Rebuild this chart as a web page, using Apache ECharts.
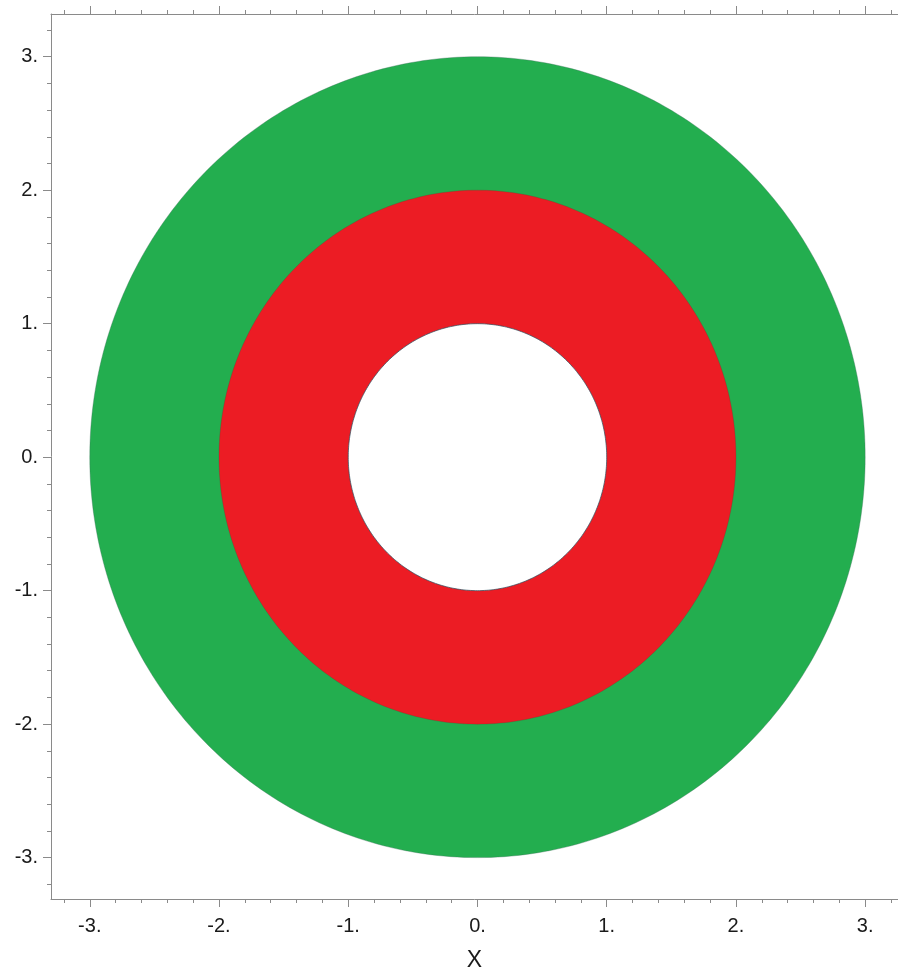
<!DOCTYPE html>
<html>
<head>
<meta charset="utf-8">
<script src="https://cdn.jsdelivr.net/npm/echarts@6/dist/echarts.min.js"></script>
<style>
  html, body { margin: 0; padding: 0; background: #ffffff; }
  #chart { width: 898px; height: 978px; }
</style>
</head>
<body>
<div id="chart"></div>
<script>
// ---- data ----
const diskCenterX = [0, 0, 0];
const diskCenterY = [0, 0, 0];
const diskRadius = [3, 2, 1];          // green outer disk, red disk, white hole
const majorTicks = [-3, -2, -1, 0, 1, 2, 3];
const tickLabels = ['-3.', '-2.', '-1.', '0.', '1.', '2.', '3.'];
const minorTicks = [-3.2, -2.8, -2.6, -2.4, -2.2, -1.8, -1.6, -1.4, -1.2,
                    -0.8, -0.6, -0.4, -0.2, 0.2, 0.4, 0.6, 0.8,
                    1.2, 1.4, 1.6, 1.8, 2.2, 2.4, 2.6, 2.8, 3.2];
const axisName = 'X';

// ---- styles ----
const diskColors = ['#23ae4f', '#ec1c24', '#ffffff'];
const diskStrokes = ['rgba(60,110,90,0.35)', 'rgba(120,40,40,0.25)', 'rgba(40,80,95,0.7)'];
const axisColor = '#8a8a8a';
const labelColor = '#1a1a1a';
const FONT = '"Liberation Sans", Arial, sans-serif';

const X_MIN = -3.3, X_MAX = 3.254;
const Y_MIN = -3.31, Y_MAX = 3.32;

const labelMap = {};
majorTicks.forEach((v, i) => { labelMap[v] = tickLabels[i]; });

function makeAxis(dim, position, major, withLabels, extra) {
  const ax = {
    type: 'value',
    position: position,
    min: dim === 'x' ? X_MIN : Y_MIN,
    max: dim === 'x' ? X_MAX : Y_MAX,
    splitLine: { show: false },
    axisLine: { show: major, onZero: false, lineStyle: { color: axisColor, width: 1 } },
    axisTick: {
      show: true,
      inside: false,
      length: major ? 8 : 4,
      customValues: major ? majorTicks : minorTicks,
      lineStyle: { color: axisColor, width: 1 }
    },
    axisLabel: {
      show: withLabels,
      customValues: majorTicks,
      formatter: v => labelMap[Math.round(v)] || '',
      color: labelColor,
      fontFamily: FONT,
      fontSize: 20,
      margin: dim === 'x' ? 17 : 13
    }
  };
  return Object.assign(ax, extra || {});
}

const chart = echarts.init(document.getElementById('chart'), null, { renderer: 'canvas' });

const diskData = diskRadius.map((r, i) => [diskCenterX[i], diskCenterY[i], r, i]);

chart.setOption({
  backgroundColor: '#ffffff',
  animation: false,
  grid: { left: 51, right: 0, top: 14, bottom: 79, containLabel: false },
  xAxis: [
    makeAxis('x', 'bottom', true, true, {
      name: axisName, nameLocation: 'middle', nameGap: 50,
      nameTextStyle: { color: labelColor, fontFamily: FONT, fontSize: 23 }
    }),
    makeAxis('x', 'bottom', false, false),
    makeAxis('x', 'top', true, false),
    makeAxis('x', 'top', false, false)
  ],
  yAxis: [
    makeAxis('y', 'left', true, true),
    makeAxis('y', 'left', false, false)
  ],
  series: [{
    type: 'custom',
    xAxisIndex: 0,
    yAxisIndex: 0,
    clip: false,
    encode: { x: 0, y: 1 },
    data: diskData,
    renderItem: function (params, api) {
      const cx = api.value(0), cy = api.value(1), r = api.value(2);
      const idx = api.value(3);
      const pts = [];
      const N = 360;
      for (let k = 0; k < N; k++) {
        const t = (k / N) * Math.PI * 2;
        pts.push(api.coord([cx + r * Math.cos(t), cy + r * Math.sin(t)]));
      }
      return {
        type: 'polygon',
        shape: { points: pts },
        style: {
          fill: diskColors[idx],
          stroke: diskStrokes[idx],
          lineWidth: 1
        }
      };
    }
  }]
});
</script>
</body>
</html>
